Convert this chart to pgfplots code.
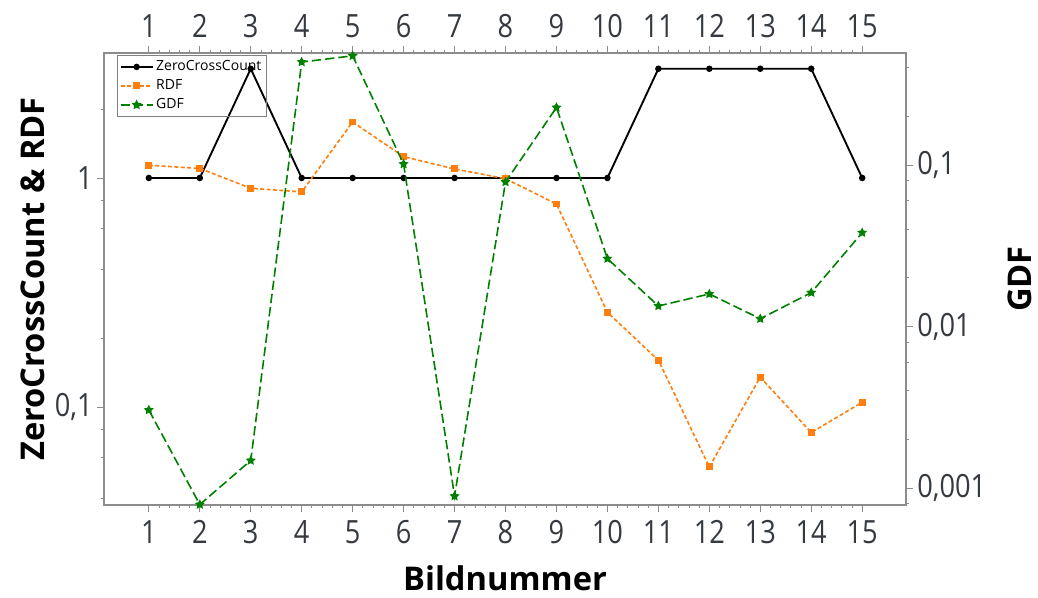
\documentclass[border=0pt]{standalone}
\usepackage{fontspec}
\setmainfont{Open Sans}
\newfontfamily\tickfont[FakeStretch=0.85]{Open Sans}
\usepackage{pgfplots}
\pgfplotsset{compat=1.18}
\definecolor{tickgray}{HTML}{353A40}
\definecolor{axgray}{HTML}{8C8C8C}
\definecolor{rdforange}{HTML}{FF7F0E}
\definecolor{gdfgreen}{HTML}{008000}
\pgfdeclareplotmark{fstar}{%
  \pgfpathmoveto{\pgfpointpolar{90}{\pgfplotmarksize}}%
  \pgfpathlineto{\pgfpointpolar{126}{0.5\pgfplotmarksize}}%
  \pgfpathlineto{\pgfpointpolar{162}{\pgfplotmarksize}}%
  \pgfpathlineto{\pgfpointpolar{198}{0.5\pgfplotmarksize}}%
  \pgfpathlineto{\pgfpointpolar{234}{\pgfplotmarksize}}%
  \pgfpathlineto{\pgfpointpolar{270}{0.5\pgfplotmarksize}}%
  \pgfpathlineto{\pgfpointpolar{306}{\pgfplotmarksize}}%
  \pgfpathlineto{\pgfpointpolar{342}{0.5\pgfplotmarksize}}%
  \pgfpathlineto{\pgfpointpolar{18}{\pgfplotmarksize}}%
  \pgfpathlineto{\pgfpointpolar{54}{0.5\pgfplotmarksize}}%
  \pgfpathclose\pgfusepathqfillstroke}
\pgfplotsset{
  common/.style={
    scale only axis, width=601.5pt, height=339pt,
    xmin=0.12, xmax=15.86,
    xtick={1,2,3,4,5,6,7,8,9,10,11,12,13,14,15},
    xticklabels={1,2,3,4,5,6,7,8,9,10,11,12,13,14,15},
    minor x tick num=4,
    major tick length=5pt, minor tick length=2.5pt,
    every tick/.style={axgray, line width=0.6pt},
    axis line style={axgray, line width=0.9pt},
    ticklabel style={font=\tickfont\fontsize{24}{28}\selectfont, text=tickgray},
    label style={font=\bfseries\fontsize{24.5}{28}\selectfont, text=black, inner sep=0pt},
  }
}
\begin{document}
\begin{tikzpicture}
\begin{axis}[common, name=main, ymode=log, ymin=0.0373, ymax=3.515,
  tick align=outside,
  xtick pos=both, xticklabel pos=lower,
  xticklabel style={yshift=-3pt},
  ytick pos=left, ytick={0.1,1}, yticklabels={0{,}1,1},
  minor ytick={0.04,0.06,0.08,0.2,0.4,0.6,0.8,2},
  xlabel={Bildnummer}, ylabel={ZeroCrossCount \& RDF},
  xlabel style={at={(axis description cs:0.5,-0.163)}, anchor=center},
  ylabel style={at={(axis description cs:-0.0885,0.5)}, anchor=center},
  legend style={at={(rel axis cs:0.016,0.995)}, anchor=north west, draw=gray,
    font=\fontsize{10.5}{12}\selectfont, fill=none, inner sep=2pt, row sep=1.2pt},
  legend cell align=left,
  legend image code/.code={\draw[mark repeat=2,mark phase=2] plot coordinates {(0cm,0cm)(0.42cm,0cm)(0.84cm,0cm)};},
]
\addplot[black, line width=1.4pt, mark=*, mark size=1.7pt] coordinates {
(1,1) (2,1) (3,3) (4,1) (5,1) (6,1) (7,1) (8,1) (9,1) (10,1) (11,3) (12,3) (13,3) (14,3) (15,1)};
\addlegendentry{ZeroCrossCount}
\addplot[rdforange, line width=1.2pt, dash pattern=on 3pt off 1.8pt, mark=square*, mark size=2pt, mark options={solid}] coordinates {
(1,1.137) (2,1.10) (3,0.902) (4,0.869) (5,1.756) (6,1.239) (7,1.095) (8,0.993) (9,0.77) (10,0.259) (11,0.160) (12,0.0547) (13,0.1349) (14,0.0773) (15,0.1048)};
\addlegendentry{RDF}
\addlegendimage{gdfgreen, line width=1.2pt, dash pattern=on 7pt off 3pt, mark=fstar, mark size=2.6pt, mark options={solid}}
\addlegendentry{GDF}
\end{axis}
\begin{axis}[common, ymode=log, ymin=0.000785, ymax=0.4937,
  axis x line*=top, axis y line*=right,
  tick align=outside,
  xtick pos=upper, xticklabel pos=upper,
  xticklabel style={yshift=3pt},
  ytick pos=right, yticklabel pos=right,
  ytick={0.001,0.01,0.1}, yticklabels={0{,}001,0{,}01,0{,}1},
  minor ytick={0.0008,0.002,0.004,0.006,0.008,0.02,0.04,0.06,0.08,0.2,0.4},
  ylabel={GDF},
  ylabel style={at={(axis description cs:1.1421,0.5)}, anchor=center},
]
\addplot[gdfgreen, line width=1.2pt, dash pattern=on 7pt off 3pt, mark=fstar, mark size=2.6pt, mark options={solid}] coordinates {
(1,0.00304) (2,0.00079) (3,0.00148) (4,0.434) (5,0.474) (6,0.1014) (7,0.000891) (8,0.0785) (9,0.227) (10,0.0263) (11,0.0134) (12,0.0159) (13,0.01117) (14,0.0162) (15,0.0381)};
\end{axis}
\pgfresetboundingbox
\path[use as bounding box] ([xshift=-78pt,yshift=-69.75pt]main.south west) rectangle ([xshift=99pt,yshift=39.75pt]main.north east);
\end{tikzpicture}
\end{document}
